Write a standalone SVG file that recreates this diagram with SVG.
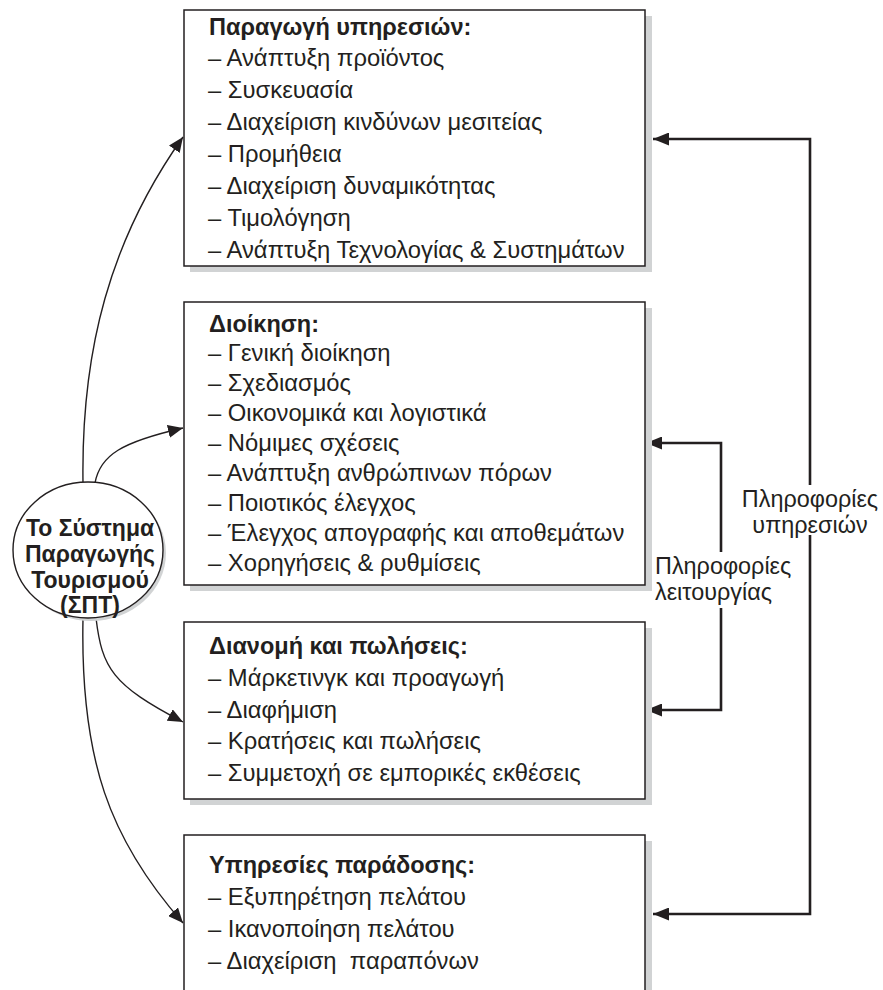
<svg xmlns="http://www.w3.org/2000/svg" width="883" height="990" viewBox="0 0 883 990">
<defs>
<style>
.box{fill:#fff;stroke:#231f20;stroke-width:1.5}
.sh{fill:#d1d3d4}
.t{font-family:"Liberation Sans",Arial,sans-serif;font-size:23.8px;fill:#231f20}
.b{font-weight:bold;font-size:23.5px}
.c{font-family:"Liberation Sans",Arial,sans-serif;font-size:23px;font-weight:bold;fill:#231f20;text-anchor:middle}
.lbl{font-family:"Liberation Sans",Arial,sans-serif;font-size:23.4px;fill:#231f20}
.mid{text-anchor:middle}
.curve{fill:none;stroke:#231f20;stroke-width:1.4}
.conn{fill:none;stroke:#231f20;stroke-width:2.6}
</style>
<marker id="ah" viewBox="0 0 15 13" refX="15" refY="6.5" markerWidth="15" markerHeight="13" markerUnits="userSpaceOnUse" orient="auto">
<path d="M0,0 L15,6.5 L0,13 Z" fill="#231f20"/>
</marker>
<marker id="ah2" viewBox="0 0 16 13" refX="16" refY="6.5" markerWidth="16" markerHeight="13" markerUnits="userSpaceOnUse" orient="auto">
<path d="M0,0 L16,6.5 L0,13 Z" fill="#231f20"/>
</marker>
</defs>
<rect width="883" height="990" fill="#fff"/>

<g id="connectors">
<path class="curve" d="M83,483 C81,350 110,240 183,137" marker-end="url(#ah)"/>
<path class="curve" d="M95,483 C100,455 122,442 183,428" marker-end="url(#ah)"/>
<path class="curve" d="M96,618 C102,668 112,685 183,722" marker-end="url(#ah)"/>
<path class="curve" d="M83,618 C80,760 110,840 183,923" marker-end="url(#ah)"/>
<path class="conn" d="M810,485 L810,139 L653,139" marker-end="url(#ah2)"/>
<path class="conn" d="M810,535 L810,914 L653,914" marker-end="url(#ah2)"/>
<path class="conn" d="M721,552 L721,443 L646,443" marker-end="url(#ah2)"/>
<path class="conn" d="M721,608 L721,710 L646,710" marker-end="url(#ah2)"/>
<text class="lbl mid" x="810" y="507">Πληροφορίες</text>
<text class="lbl mid" x="810" y="533">υπηρεσιών</text>
<text class="lbl" x="655" y="574">Πληροφορίες</text>
<text class="lbl" x="655" y="600">λειτουργίας</text>
</g>

<g id="center">
<ellipse cx="91" cy="553" rx="75" ry="68" class="sh"/>
<ellipse cx="88" cy="550" rx="75" ry="68" fill="#fff" stroke="#231f20" stroke-width="1.4"/>
<text class="c" x="90" y="536">Το Σύστημα</text>
<text class="c" x="90" y="562">Παραγωγής</text>
<text class="c" x="90" y="588">Τουρισμού</text>
<text class="c" x="90" y="613">(ΣΠΤ)</text>
</g>

<g id="production">
<rect class="sh" x="190" y="16" width="462" height="256"/>
<rect class="box" x="184" y="10" width="461" height="256"/>
<text class="t b" x="209" y="35">Παραγωγή υπηρεσιών:</text>
<text class="t" x="208" y="66">– Ανάπτυξη προϊόντος</text>
<text class="t" x="208" y="98">– Συσκευασία</text>
<text class="t" x="208" y="130">– Διαχείριση κινδύνων μεσιτείας</text>
<text class="t" x="208" y="162">– Προμήθεια</text>
<text class="t" x="208" y="194">– Διαχείριση δυναμικότητας</text>
<text class="t" x="208" y="226">– Τιμολόγηση</text>
<text class="t" x="208" y="258">– Ανάπτυξη Τεχνολογίας &amp; Συστημάτων</text>
</g>

<g id="administration">
<rect class="sh" x="190" y="308" width="462" height="283"/>
<rect class="box" x="184" y="302" width="461" height="283"/>
<text class="t b" x="209" y="332">Διοίκηση:</text>
<text class="t" x="208" y="361">– Γενική διοίκηση</text>
<text class="t" x="208" y="391">– Σχεδιασμός</text>
<text class="t" x="208" y="421">– Οικονομικά και λογιστικά</text>
<text class="t" x="208" y="451">– Νόμιμες σχέσεις</text>
<text class="t" x="208" y="481">– Ανάπτυξη ανθρώπινων πόρων</text>
<text class="t" x="208" y="511">– Ποιοτικός έλεγχος</text>
<text class="t" x="208" y="541">– Έλεγχος απογραφής και αποθεμάτων</text>
<text class="t" x="208" y="571">– Χορηγήσεις &amp; ρυθμίσεις</text>
</g>

<g id="distribution">
<rect class="sh" x="190" y="628" width="462" height="177"/>
<rect class="box" x="184" y="622" width="461" height="177"/>
<text class="t b" x="209" y="654">Διανομή και πωλήσεις:</text>
<text class="t" x="208" y="686">– Μάρκετινγκ και προαγωγή</text>
<text class="t" x="208" y="718">– Διαφήμιση</text>
<text class="t" x="208" y="749">– Κρατήσεις και πωλήσεις</text>
<text class="t" x="208" y="781">– Συμμετοχή σε εμπορικές εκθέσεις</text>
</g>

<g id="delivery">
<rect class="sh" x="190" y="841" width="462" height="170"/>
<rect class="box" x="184" y="835" width="461" height="170"/>
<text class="t b" x="209" y="873">Υπηρεσίες παράδοσης:</text>
<text class="t" x="208" y="905">– Εξυπηρέτηση πελάτου</text>
<text class="t" x="208" y="937">– Ικανοποίηση πελάτου</text>
<text class="t" x="208" y="969" xml:space="preserve">– Διαχείριση  παραπόνων</text>
</g>
</svg>
